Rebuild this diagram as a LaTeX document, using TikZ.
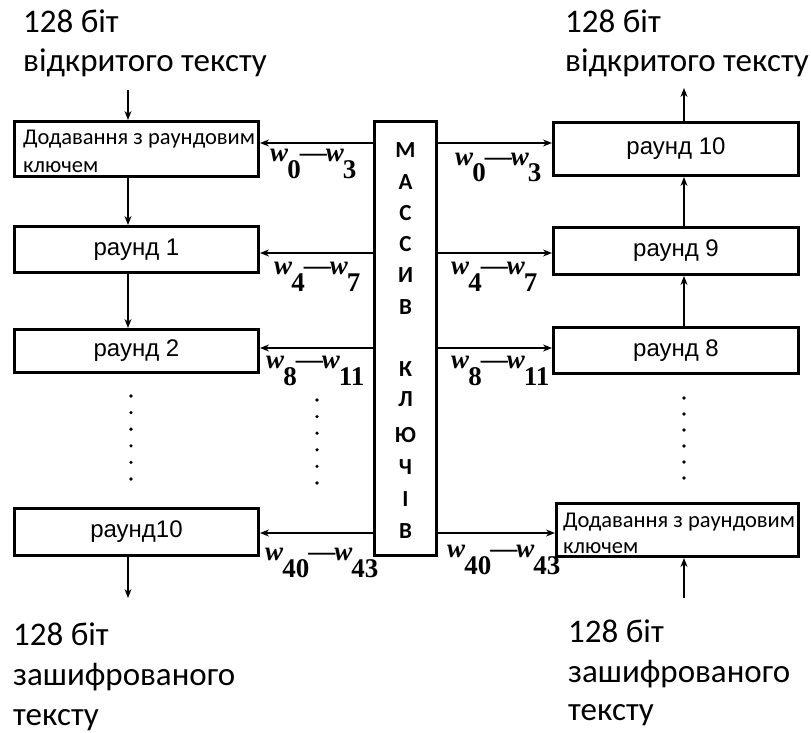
\documentclass[tikz,border=0pt]{standalone}
\usepackage{fontspec}
\setmainfont{Carlito}
\newfontfamily\arialf{Liberation Sans}
\newfontfamily\timesf{Liberation Serif}
\usetikzlibrary{arrows.meta}
\newcommand\wlab[2]{{\timesf\bfseries\fontsize{27}{30}\selectfont\textit{w}\kern-1pt\raisebox{-17pt}{#1}\kern-1pt—\kern-1pt\textit{w}\kern-1pt\raisebox{-17pt}{#2}}}
\begin{document}
\begin{tikzpicture}[x=1pt,y=-1pt,
  box/.style={draw, line width=3pt, inner sep=0pt, font=\arialf\fontsize{24}{28}\selectfont},
  keybox/.style={draw, line width=3pt, inner sep=0pt},
  smalltxt/.style={inner sep=0pt, anchor=base west, font=\fontsize{22.5}{25}\selectfont},
  bigtxt/.style={inner sep=0pt, anchor=base west, font=\fontsize{33}{38}\selectfont},
  keyl/.style={inner sep=0pt, font=\bfseries\fontsize{23}{23}\selectfont},
  wtxt/.style={inner sep=0pt, anchor=base west},
  arr/.style={-{Stealth[length=9pt,width=7pt]}, line width=1.3pt},
  dotc/.style={fill=black}
]
\useasboundingbox (0,0) rectangle (811,733);

% top / bottom texts
\node[bigtxt] (tl1) at (23,33) {128 біт};
\node[bigtxt] (tl2) at (23,72) {відкритого тексту};
\node[bigtxt] (tr1) at (565,33) {128 біт};
\node[bigtxt] (tr2) at (565,72) {відкритого тексту};
\node[bigtxt] (bl1) at (13,645) {128 біт};
\node[bigtxt] (bl2) at (13,685) {зашифрованого};
\node[bigtxt] (bl3) at (13,725) {тексту};
\node[bigtxt] (br1) at (568,642) {128 біт};
\node[bigtxt] (br2) at (568,682) {зашифрованого};
\node[bigtxt] (br3) at (568,720) {тексту};

% left column
\node[box, minimum width=244, minimum height=55] (L0) at (136.5,149) {};
\node[smalltxt] (L0a) at (23,145) {Додавання з раундовим};
\node[smalltxt] (L0b) at (23,172) {ключем};
\node[box, minimum width=244, minimum height=46] (L1) at (136.5,249.5) {раунд 1};
\node[box, minimum width=244, minimum height=43] (L2) at (136.5,351) {раунд 2};
\node[box, minimum width=244, minimum height=47] (L10) at (136.5,532) {раунд10};

% right column
\node[box, minimum width=245, minimum height=53] (R10) at (676,149) {раунд 10};
\node[box, minimum width=245, minimum height=47] (R9) at (676,251) {раунд 9};
\node[box, minimum width=245, minimum height=46] (R8) at (676,350.5) {раунд 8};
\node[box, minimum width=242, minimum height=53] (R0) at (677.5,530) {};
\node[smalltxt] (R0a) at (563,527) {Додавання з раундовим};
\node[smalltxt] (R0b) at (563,553) {ключем};

% key array
\node[keybox, minimum width=62, minimum height=434] (K) at (405.5,338.5) {};
\foreach \l/\y [count=\i] in {М/150,А/182,С/213,С/244,И/275,В/307,К/369,Л/399,Ю/435,Ч/467,І/499,В/531}
  \node[keyl] (k\i) at (405.5,\y) {\l};

% vertical arrows left
\coordinate (inL) at (128,90);
\coordinate (outL) at (128,598);
\draw[arr] (inL) -- (inL |- L0.north);
\draw[arr] (L0.south -| inL) -- (L1.north -| inL);
\draw[arr] (L1.south -| inL) -- (L2.north -| inL);
\draw[arr] (L10.south -| inL) -- (outL);

% vertical arrows right
\coordinate (inR) at (684,598);
\coordinate (outR) at (684,88);
\draw[arr] (inR) -- (inR |- R0.south);
\draw[arr] (R8.north -| inR) -- (R9.south -| inR);
\draw[arr] (R9.north -| inR) -- (R10.south -| inR);
\draw[arr] (R10.north -| inR) -- (outR);

% dots
\foreach \i in {0,...,5} {
  \fill[dotc] (131,396+\i*16.6) circle (1.8);
  \fill[dotc] (317,400+\i*16.6) circle (1.8);
  \fill[dotc] (684,398+\i*16) circle (1.8);
}

% horizontal arrows
\foreach \y/\a/\b in {143/L0/R10, 253/L1/R9, 348/L2/R8, 533/L10/R0} {
  \draw[arr] (K.west |- 0,\y) -- (\a.east |- 0,\y);
  \draw[arr] (K.east |- 0,\y) -- (\b.west |- 0,\y);
}

% w labels
\node[wtxt] (wl1) at (270,161) {\wlab{0}{3}};
\node[wtxt] (wl2) at (274,274) {\wlab{4}{7}};
\node[wtxt] (wl3) at (266,368) {\wlab{8}{11}};
\node[wtxt] (wl4) at (265,560) {\wlab{40}{43}};
\node[wtxt] (wr1) at (455,165) {\wlab{0}{3}};
\node[wtxt] (wr2) at (451,274) {\wlab{4}{7}};
\node[wtxt] (wr3) at (451,368) {\wlab{8}{11}};
\node[wtxt] (wr4) at (447,557) {\wlab{40}{43}};
\end{tikzpicture}
\end{document}
